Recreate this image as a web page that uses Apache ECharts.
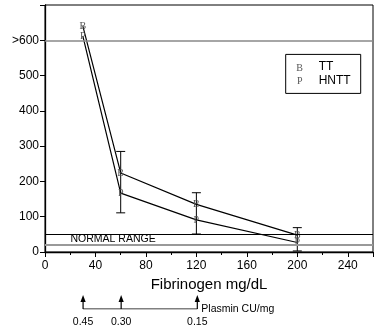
<!DOCTYPE html>
<html>
<head>
<meta charset="utf-8">
<script src="https://cdn.jsdelivr.net/npm/echarts@6/dist/echarts.min.js"></script>
<style>
  html, body { margin: 0; padding: 0; background: #fff; }
  #chart { width: 376px; height: 329px; }
</style>
</head>
<body>
<div id="chart"></div>
<script>
// fibrinogen levels (x) and clotting times
const fibrinogen = [30, 60, 120, 200];
const ttValues = [640, 224, 135, 48];
const hnttValues = [612, 167, 91, 27];
// error bars: one per fibrinogen level, spanning both series
const errX = [60, 120, 200];
const errLow = [111, 51, 3];
const errHigh = [285, 168, 69];
// reference lines
const normalLow = 20;
const normalHigh = 50;
const overLimit = 600;
// plasmin scale under the axis
const plasminX = [30, 60, 120];
const plasminLabels = ['0.45', '0.30', '0.15'];

const seriesNames = ['TT', 'HNTT'];
const seriesMarks = ['B', 'P'];

const font = 'Liberation Sans, Arial, sans-serif';
const markFont = 'Liberation Serif, serif';

const chart = echarts.init(document.getElementById('chart'));

function markLabel(ch) {
  return {
    show: true, position: 'inside', formatter: ch,
    fontFamily: markFont, fontSize: 10, color: '#555'
  };
}

const option = {
  animation: false,
  grid: [
    { left: 45, right: 1, top: 5, bottom: 77, show: true, borderColor: '#000', borderWidth: 1 },
    { left: 45, right: 1, top: 296, height: 13 }
  ],
  xAxis: [{
    type: 'value', min: 0, max: 260, interval: 40,
    name: 'Fibrinogen mg/dL', nameLocation: 'middle', nameGap: 24,
    nameTextStyle: { fontFamily: font, fontSize: 15, color: '#000' },
    axisLine: { show: true, lineStyle: { color: '#000', width: 1.3 } },
    axisTick: { show: true, length: 5, lineStyle: { color: '#000' } },
    minorTick: { show: true, splitNumber: 2, length: 3, lineStyle: { color: '#000' } },
    splitLine: { show: false },
    axisLabel: {
      fontFamily: font, fontSize: 12, color: '#000', margin: 8,
      formatter: v => (v > 240 ? '' : String(v))
    }
  }, {
    gridIndex: 1, type: 'value', min: 0, max: 260, show: false
  }],
  yAxis: [{
    type: 'value', min: 0, max: 700, interval: 100,
    axisLine: { show: true, lineStyle: { color: '#000', width: 1.3 } },
    axisTick: { show: true, length: 5, lineStyle: { color: '#000' } },
    splitLine: { show: false },
    axisLabel: {
      fontFamily: font, fontSize: 12, color: '#000', margin: 6,
      formatter: v => (v === 700 ? '' : v === 600 ? '>600' : String(v))
    }
  }, {
    gridIndex: 1, type: 'value', min: 0, max: 1, show: false
  }],
  series: [
    {
      name: seriesNames[0], type: 'line',
      data: fibrinogen.map((x, i) => [x, ttValues[i]]),
      symbol: 'rect', symbolSize: 7,
      itemStyle: { color: 'rgba(0,0,0,0)' },
      lineStyle: { color: '#000', width: 1.2 },
      label: markLabel(seriesMarks[0]),
      z: 3,
      markLine: {
        silent: true, symbol: 'none',
        label: { show: false },
        data: [
          { yAxis: overLimit, lineStyle: { color: '#888', width: 1.5, type: 'solid' } },
          { yAxis: normalHigh, lineStyle: { color: '#000', width: 1, type: 'solid' } },
          { yAxis: normalLow, lineStyle: { color: '#999', width: 2, type: 'solid' } }
        ]
      }
    },
    {
      name: seriesNames[1], type: 'line',
      data: fibrinogen.map((x, i) => [x, hnttValues[i]]),
      symbol: 'rect', symbolSize: 7,
      itemStyle: { color: 'rgba(0,0,0,0)' },
      lineStyle: { color: '#000', width: 1.2 },
      label: markLabel(seriesMarks[1]),
      z: 3
    },
    {
      type: 'custom',
      data: errX.map((x, i) => [x, errLow[i], errHigh[i]]),
      renderItem(params, api) {
        const lo = api.coord([api.value(0), api.value(1)]);
        const hi = api.coord([api.value(0), api.value(2)]);
        const w = 4.5;
        const st = { stroke: '#000', lineWidth: 1 };
        return {
          type: 'group',
          children: [
            { type: 'line', shape: { x1: lo[0], y1: lo[1], x2: hi[0], y2: hi[1] }, style: st },
            { type: 'line', shape: { x1: lo[0] - w, y1: lo[1], x2: lo[0] + w, y2: lo[1] }, style: st },
            { type: 'line', shape: { x1: hi[0] - w, y1: hi[1], x2: hi[0] + w, y2: hi[1] }, style: st }
          ]
        };
      },
      z: 2
    },
    // plasmin scale
    {
      type: 'line', xAxisIndex: 1, yAxisIndex: 1,
      data: [[plasminX[0], 0], [plasminX[plasminX.length - 1], 0]],
      symbol: 'none',
      lineStyle: { color: '#000', width: 1 },
      endLabel: {
        show: true, formatter: 'Plasmin CU/mg', distance: 4,
        fontFamily: font, fontSize: 10.5, color: '#000'
      }
    },
    {
      type: 'custom', xAxisIndex: 1, yAxisIndex: 1,
      data: plasminX.map((x, i) => [x, 0, plasminLabels[i]]),
      renderItem(params, api) {
        const b = api.coord([api.value(0), 0]);
        const t = api.coord([api.value(0), 1]);
        const lbl = plasminLabels[params.dataIndex];
        return {
          type: 'group',
          children: [
            { type: 'line', shape: { x1: b[0], y1: b[1], x2: t[0], y2: t[1] + 4 }, style: { stroke: '#000', lineWidth: 1.2 } },
            { type: 'polygon', shape: { points: [[t[0], t[1] - 1], [t[0] - 2.6, t[1] + 6], [t[0] + 2.6, t[1] + 6]] }, style: { fill: '#000' } },
            { type: 'text', x: b[0], y: b[1] + 8, style: { text: lbl, fontFamily: font, fontSize: 10.5, fill: '#000', align: 'center', verticalAlign: 'top' } }
          ]
        };
      }
    }
  ]
};

chart.setOption(option);

// annotations placed from the axis scale
const nrPos = chart.convertToPixel({ gridIndex: 0 }, [54, (normalHigh + normalLow) / 2]);
const lgTopLeft = chart.convertToPixel({ gridIndex: 0 }, [190, 560]);

chart.setOption({
  graphic: [
    {
      type: 'text', x: nrPos[0], y: nrPos[1] - 0.5,
      style: { text: 'NORMAL RANGE', fontFamily: font, fontSize: 10.5, fill: '#000', align: 'center', verticalAlign: 'middle' }
    },
    {
      type: 'group', x: lgTopLeft[0] + 1, y: lgTopLeft[1],
      children: [
        { type: 'rect', shape: { x: 0, y: 0, width: 75, height: 39 }, style: { fill: '#fff', stroke: '#000', lineWidth: 1 } },
        { type: 'text', x: 14, y: 14, style: { text: seriesMarks[0], fontFamily: markFont, fontSize: 10, fill: '#555', align: 'center', verticalAlign: 'middle' } },
        { type: 'text', x: 33, y: 12.5, style: { text: seriesNames[0], fontFamily: font, fontSize: 12, fill: '#000', verticalAlign: 'middle' } },
        { type: 'text', x: 14, y: 27, style: { text: seriesMarks[1], fontFamily: markFont, fontSize: 10, fill: '#555', align: 'center', verticalAlign: 'middle' } },
        { type: 'text', x: 33, y: 26, style: { text: seriesNames[1], fontFamily: font, fontSize: 12, fill: '#000', verticalAlign: 'middle' } }
      ]
    }
  ]
});
</script>
</body>
</html>
